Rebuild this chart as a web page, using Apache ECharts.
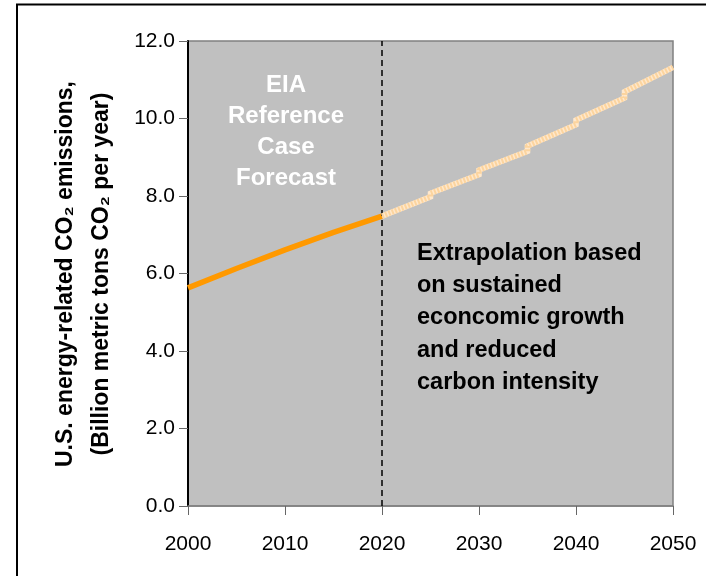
<!DOCTYPE html>
<html>
<head>
<meta charset="utf-8">
<title>U.S. energy-related CO2 emissions</title>
<script src="https://cdn.jsdelivr.net/npm/echarts@6/dist/echarts.min.js"></script>
<style>
  html, body { margin: 0; padding: 0; background: #ffffff; }
  #chart { width: 706px; height: 576px; }
</style>
</head>
<body>
<div id="chart"></div>
<script>
// Historic / EIA reference case emissions (billion metric tons CO2 per year)
const historicYears = [2000, 2005, 2010, 2015, 2020];
const historicValues = [5.63, 6.13, 6.61, 7.06, 7.48];

// Extrapolated path, one run per 5-year block (each block restarts slightly higher)
const projectionYears = [2020, 2025, 2025, 2030, 2030, 2035, 2035, 2040, 2040, 2045, 2045, 2050];
const projectionValues = [7.48, 7.98, 8.07, 8.55, 8.67, 9.15, 9.29, 9.84, 9.96, 10.53, 10.69, 11.32];

const forecastEndYear = 2020;
const xTicks = { min: 2000, max: 2050, step: 10 };
const yTicks = { min: 0, max: 12, step: 2 };

const FONT = '"Liberation Sans", Arial, sans-serif';

const pairs = (xs, ys) => xs.map((x, i) => [x, ys[i]]);

const chart = echarts.init(document.getElementById('chart'), null, { renderer: 'canvas' });

chart.setOption({
  animation: false,
  backgroundColor: '#ffffff',
  grid: {
    left: 188, top: 41, width: 485, height: 465,
    show: true, backgroundColor: '#c0c0c0',
    borderColor: '#808080', borderWidth: 1.5
  },
  xAxis: {
    type: 'value',
    min: xTicks.min, max: xTicks.max, interval: xTicks.step,
    axisLine: { show: true, lineStyle: { color: '#808080', width: 1.5 } },
    axisTick: { show: true, length: 9, lineStyle: { color: '#666666', width: 1 } },
    axisLabel: {
      color: '#000000', fontSize: 21, fontFamily: FONT, margin: 28,
      formatter: v => String(v)
    },
    splitLine: { show: false }
  },
  yAxis: {
    type: 'value',
    min: yTicks.min, max: yTicks.max, interval: yTicks.step,
    axisLine: { show: true, lineStyle: { color: '#000000', width: 2 } },
    axisTick: { show: true, length: 9, lineStyle: { color: '#666666', width: 1 } },
    axisLabel: {
      color: '#000000', fontSize: 21, fontFamily: FONT, margin: 13,
      formatter: v => v.toFixed(1)
    },
    splitLine: { show: false }
  },
  series: [
    {
      name: 'EIA reference case',
      type: 'line',
      data: pairs(historicYears, historicValues),
      showSymbol: false,
      lineStyle: { color: '#ff9900', width: 5.5, cap: 'butt' },
      z: 3,
      markLine: {
        silent: true,
        symbol: 'none',
        label: { show: false },
        lineStyle: { color: '#000000', type: [6, 4], width: 1.5 },
        data: [{ xAxis: forecastEndYear }]
      }
    },
    {
      name: 'Extrapolation base',
      type: 'line',
      data: pairs(projectionYears, projectionValues),
      showSymbol: false,
      lineStyle: { color: '#ffe8cc', width: 5.5, cap: 'butt', join: 'miter' },
      z: 4
    },
    {
      name: 'Extrapolation',
      type: 'line',
      data: pairs(projectionYears, projectionValues),
      showSymbol: false,
      lineStyle: { color: '#fcd49e', width: 5.5, type: [2, 1.5], cap: 'butt' },
      z: 5
    }
  ],
  graphic: [
    // outer frame
    {
      type: 'polyline',
      shape: { points: [[17, 576], [17, 4.5], [706, 4.5]] },
      style: { stroke: '#000000', lineWidth: 2, fill: null },
      silent: true
    },
    // axis title
    {
      type: 'text',
      x: 66, y: 274, rotation: Math.PI / 2,
      style: {
        text: 'U.S. energy-related CO\u2082 emissions,',
        font: 'bold 23px ' + FONT, fill: '#000000',
        align: 'center', verticalAlign: 'middle'
      }
    },
    {
      type: 'text',
      x: 102, y: 274, rotation: Math.PI / 2,
      style: {
        text: '(Billion metric tons CO\u2082 per year)',
        font: 'bold 23px ' + FONT, fill: '#000000',
        align: 'center', verticalAlign: 'middle'
      }
    },
    // annotations
    {
      type: 'text',
      x: 286, y: 70,
      style: {
        text: 'EIA\nReference\nCase\nForecast',
        font: 'bold 24px ' + FONT, fill: '#ffffff',
        align: 'center', verticalAlign: 'top', lineHeight: 31
      }
    },
    {
      type: 'text',
      x: 417, y: 237,
      style: {
        text: 'Extrapolation based\non sustained\neconcomic growth\nand reduced\ncarbon intensity',
        font: 'bold 23.5px ' + FONT, fill: '#000000',
        align: 'left', verticalAlign: 'top', lineHeight: 32.3
      }
    }
  ]
});
</script>
</body>
</html>
